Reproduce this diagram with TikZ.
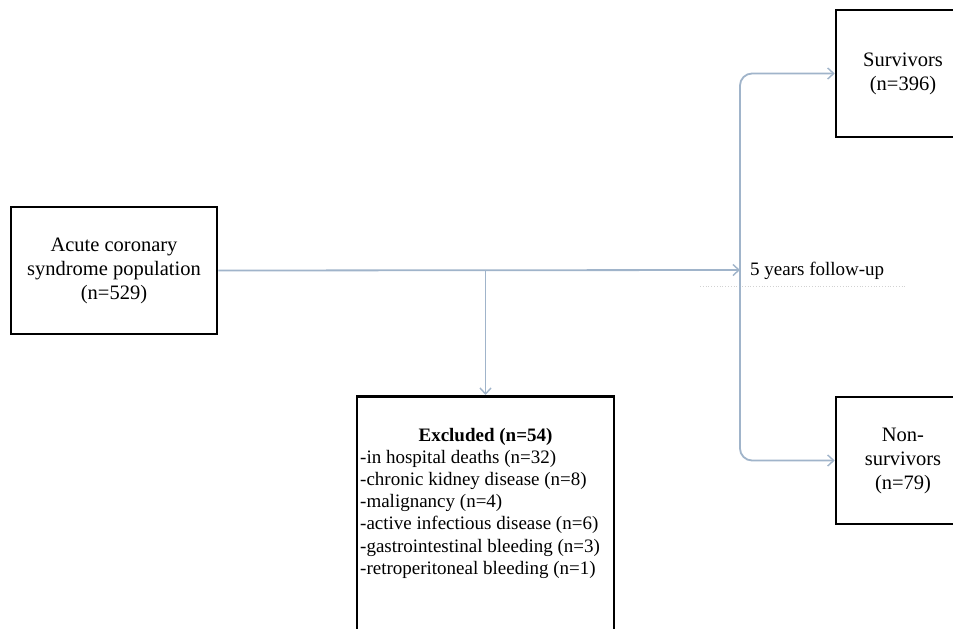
\documentclass[tikz,border=0pt]{standalone}
\usepackage{fontspec}
\setmainfont{Liberation Serif}
\usetikzlibrary{arrows.meta}
\definecolor{connblue}{RGB}{160,180,202}
\tikzset{
  box/.style={draw=black, line width=2.6pt, fill=white, align=center, inner sep=2pt,
              font=\fontsize{20.5}{24}\selectfont},
  conn/.style={draw=connblue, line width=1.8pt,
               -{Straight Barb[length=6pt,width=11pt,line width=1.4pt]}},
  plain/.style={inner sep=0pt},
}
\begin{document}
\begin{tikzpicture}[x=1pt,y=1pt]
\path[use as bounding box, clip] (0,0) rectangle (953,-629);
\fill[white] (0,0) rectangle (953,-629);

% faint dotted guide
\draw[gray!35, dotted, line width=0.8pt] (700,-286) -- (905,-286);

% boxes
\node[box, minimum width=206, minimum height=127] (acs) at (114,-270.5)
  {Acute coronary\\syndrome population\\(n=529)};
\node[box, minimum width=134, minimum height=127] (surv) at (903,-73.5)
  {Survivors\\(n=396)};
\node[box, minimum width=134, minimum height=127] (nonsurv) at (903,-460.5)
  {Non-\\survivors\\(n=79)};
\node[box, minimum width=257, minimum height=270, anchor=north] (ex) at (485.5,-395) {};

% excluded text
\node[plain, font=\fontsize{19}{22}\selectfont\bfseries] (exhead) at (485.5,-437) {Excluded (n=54)};
\node[plain, anchor=north west, align=left, font=\fontsize{19}{22.2}\selectfont] (exlist) at (360,-450)
  {-in hospital deaths (n=32)\\
   -chronic kidney disease (n=8)\\
   -malignancy (n=4)\\
   -active infectious disease (n=6)\\
   -gastrointestinal bleeding (n=3)\\
   -retroperitoneal bleeding (n=1)};

% follow-up label
\node[plain, anchor=west, font=\fontsize{19}{22}\selectfont] (fulabel) at (750,-271) {5 years follow-up};

% connector points
\coordinate (fu) at (740,-270);
\coordinate (br) at (485.5,-270);

% connectors
\draw[conn] (acs.east) -- (fu);
\draw[conn] (br) -- (ex.north);
\draw[conn, rounded corners=12pt] (fu) |- (surv.west);
\draw[conn, rounded corners=12pt] (fu) |- (nonsurv.west);
\end{tikzpicture}
\end{document}
